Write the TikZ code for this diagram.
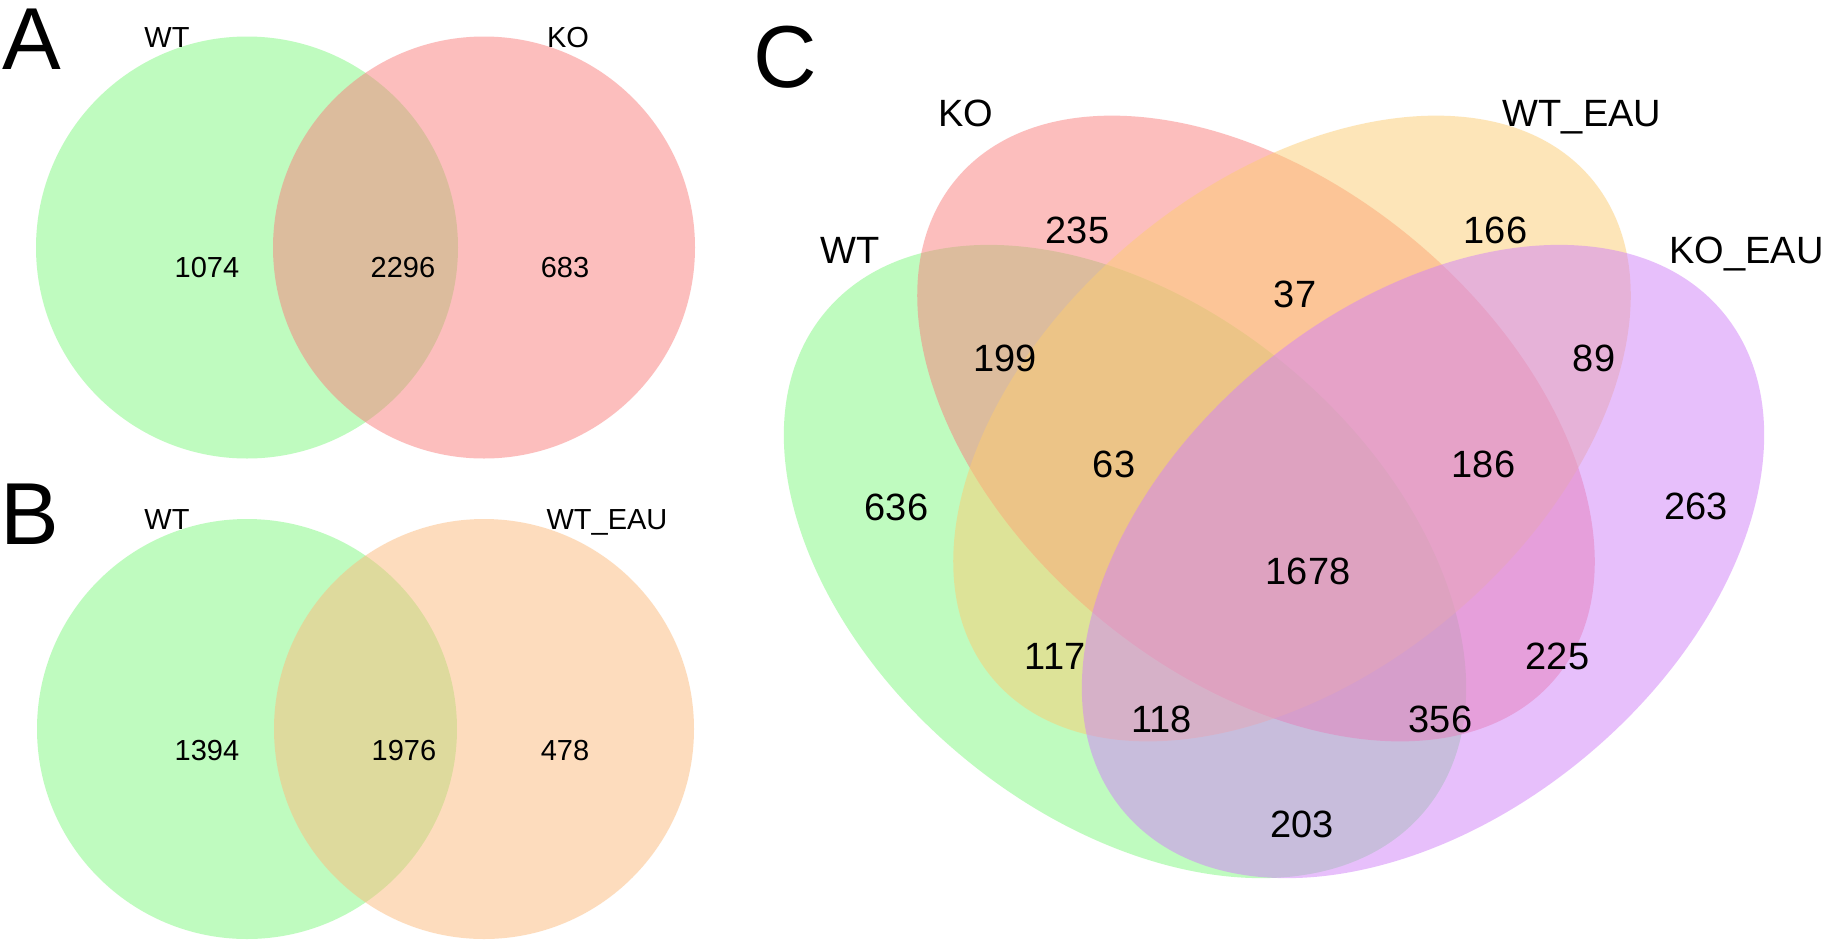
\documentclass[tikz,border=0pt]{standalone}
\usepackage{fontspec}
\setmainfont{Liberation Sans}
\definecolor{cgreen}{RGB}{129,249,129}
\definecolor{cpink}{RGB}{250,127,125}
\definecolor{cpeach}{RGB}{253,187,125}
\definecolor{cyellow}{RGB}{252,205,115}
\definecolor{cpurple}{RGB}{209,129,249}
\begin{document}
\begin{tikzpicture}[x=1pt,y=-1pt,
  venn/.style={fill opacity=0.5},
  txtab/.style={font=\fontsize{29}{34}\selectfont, inner sep=0pt, text height=20.8pt, text depth=0pt},
  txtc/.style={font=\fontsize{38}{44}\selectfont, inner sep=0pt, text height=27.2pt, text depth=0pt},
  panel/.style={font=\fontsize{88}{100}\selectfont, inner sep=0pt, text height=63pt, text depth=0pt}]
\useasboundingbox (0,0) rectangle (1828,943);
\fill[white] (0,0) rectangle (1828,943);

% ---------- Panel A ----------
\fill[cgreen,venn] (247,247.5) circle[radius=211pt];
\fill[cpink,venn] (484,247.5) circle[radius=211pt];
\node[panel] (lA) at (31.5,38) {A};
\node[txtab] (aWT) at (167,37.5) {WT};
\node[txtab] (aKO) at (568,37.5) {KO};
\node[txtab] (a1) at (207,267.5) {1074};
\node[txtab] (a2) at (403,267.5) {2296};
\node[txtab] (a3) at (565,267.5) {683};

% ---------- Panel B ----------
\fill[cgreen,venn] (247,729) circle[radius=210pt];
\fill[cpeach,venn] (484,729) circle[radius=210pt];
\node[panel] (lB) at (29.5,513) {B};
\node[txtab] (bWT) at (167,519) {WT};
\node[txtab] (bWTE) at (607,519) {WT\_EAU};
\node[txtab] (b1) at (207,750) {1394};
\node[txtab] (b2) at (404,750) {1976};
\node[txtab] (b3) at (565,750) {478};

% ---------- Panel C ----------
\fill[cgreen,venn,shift={(1125,561.5)},rotate=-39.7] (0,0) ellipse[x radius=390pt,y radius=254pt];
\fill[cpink,venn,shift={(1256,428.5)},rotate=-39.7] (0,0) ellipse[x radius=390pt,y radius=246pt];
\fill[cyellow,venn,shift={(1292,428.5)},rotate=39.7] (0,0) ellipse[x radius=390pt,y radius=246pt];
\fill[cpurple,venn,shift={(1423,561.5)},rotate=39.7] (0,0) ellipse[x radius=390pt,y radius=254pt];
\node[panel] (lC) at (785,56) {C};
\node[txtc] (cKO) at (965.5,112.5) {KO};
\node[txtc] (cWTE) at (1582,112.5) {WT\_EAU};
\node[txtc] (cWT) at (850,250) {WT};
\node[txtc] (cKOE) at (1746.5,250) {KO\_EAU};
\node[txtc] (n235) at (1077.5,230) {235};
\node[txtc] (n166) at (1495.5,230) {166};
\node[txtc] (n37) at (1295,293.5) {37};
\node[txtc] (n199) at (1005,358) {199};
\node[txtc] (n89) at (1594,358) {89};
\node[txtc] (n63) at (1114,463.5) {63};
\node[txtc] (n186) at (1483.5,463.5) {186};
\node[txtc] (n636) at (896.5,507) {636};
\node[txtc] (n263) at (1696,506) {263};
\node[txtc] (n1678) at (1308,570.5) {1678};
\node[txtc] (n117) at (1055,656) {117};
\node[txtc] (n225) at (1557.5,656) {225};
\node[txtc] (n118) at (1161.5,719) {118};
\node[txtc] (n356) at (1440.5,719) {356};
\node[txtc] (n203) at (1302,824) {203};
\end{tikzpicture}
\end{document}
